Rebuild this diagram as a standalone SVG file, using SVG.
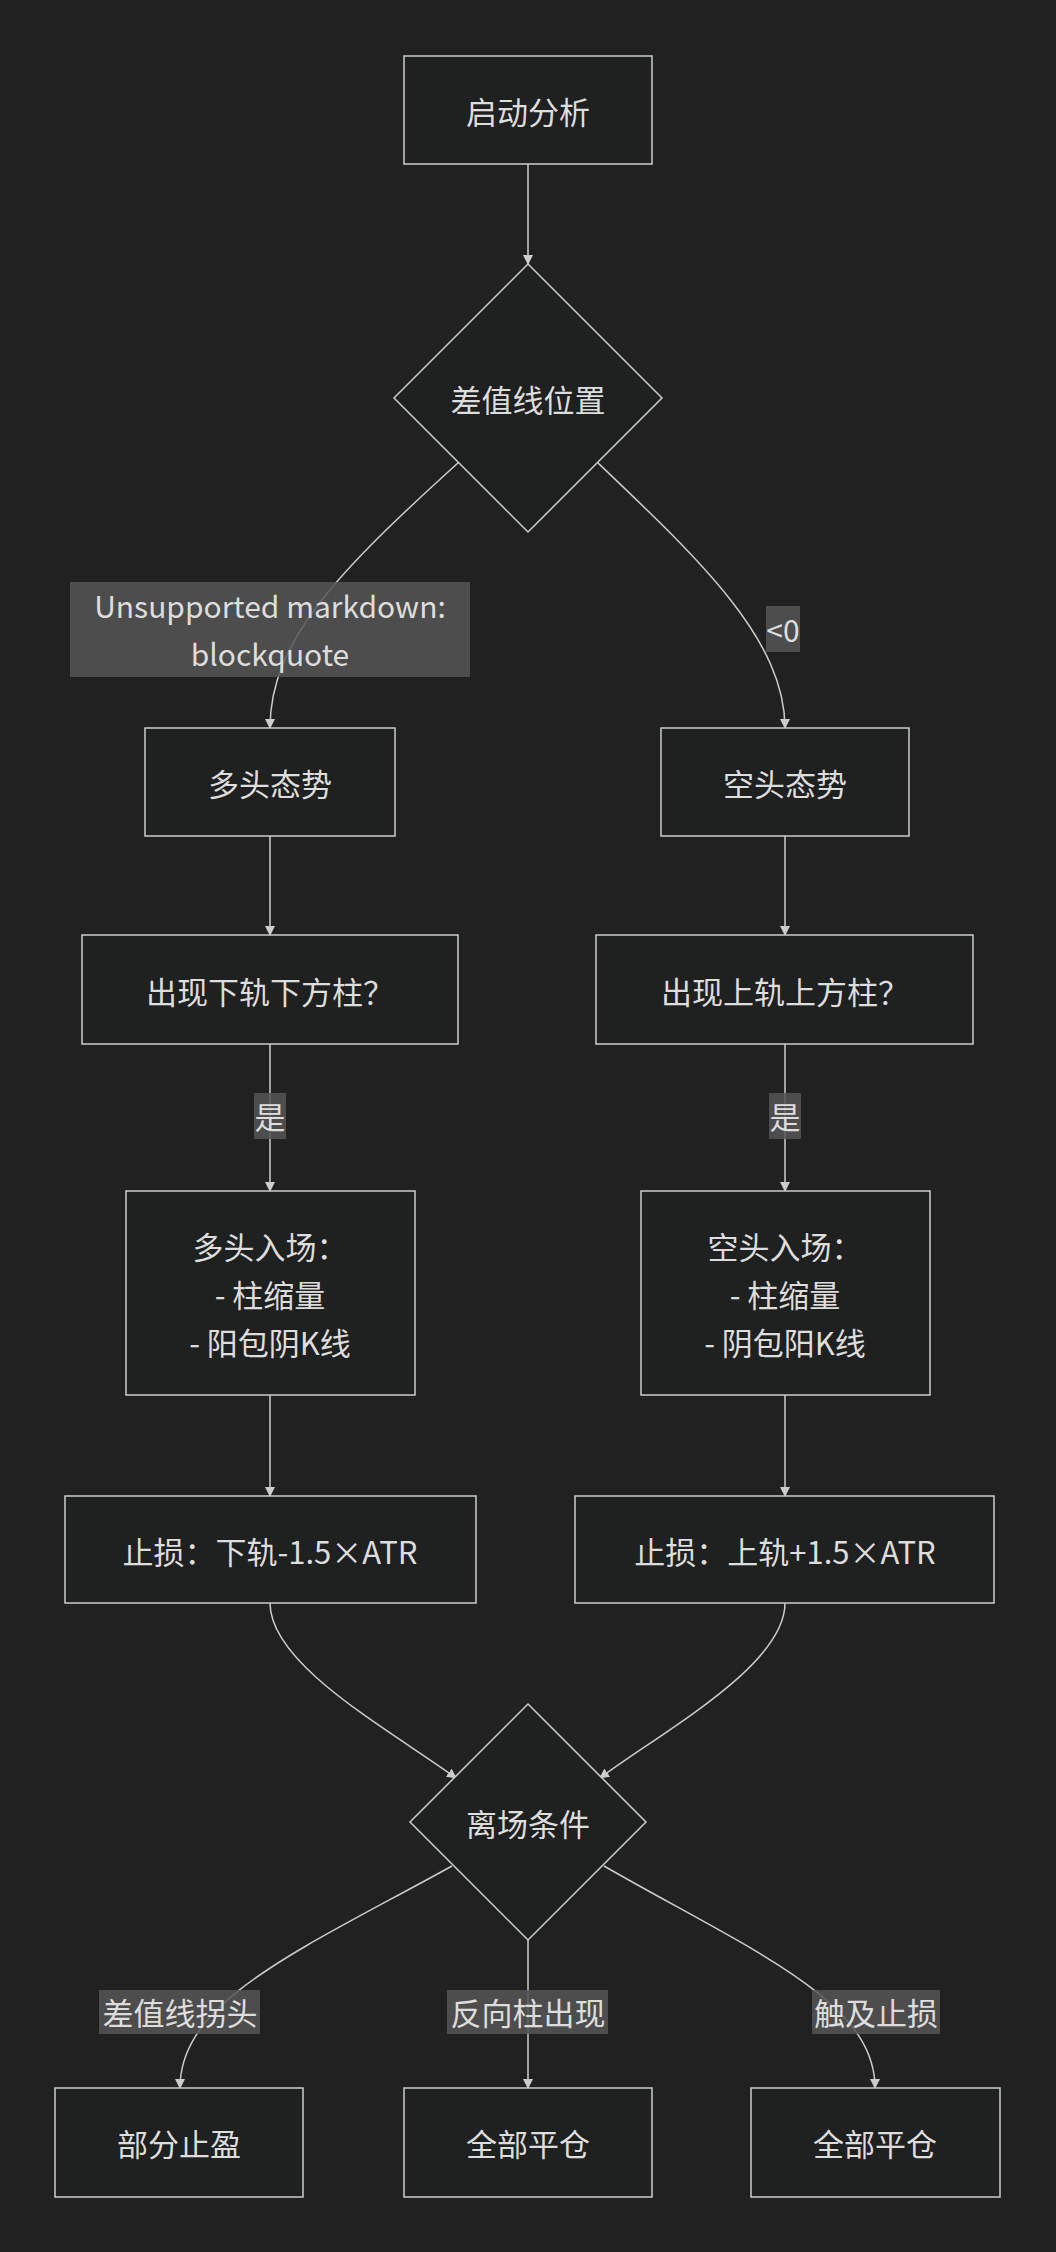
<svg xmlns="http://www.w3.org/2000/svg" width="1056" height="2252" viewBox="0 0 1056 2252">
<style>
.n{fill:#1f2020;stroke:#cccccc;stroke-width:1.5}
.t{font-family:"Noto Sans CJK SC","Noto Sans",sans-serif;font-size:31px;fill:#dddddd;text-anchor:middle;dominant-baseline:central}
.s{font-size:30px}
.e{fill:none;stroke:#cccccc;stroke-width:1.5}
.lb{fill:#555555;opacity:0.85}
</style>
<defs><marker id="a" viewBox="0 0 10 10" refX="9" refY="5" markerWidth="10" markerHeight="10" markerUnits="userSpaceOnUse" orient="auto"><path d="M0,0L10,5L0,10z" fill="#cccccc"/></marker></defs>
<rect width="1056" height="2252" fill="#212121"/>
<g id="edges">
<path class="e" d="M528,164V264" marker-end="url(#a)"/>
<path class="e" d="M459,462C340,570 270,640 270,728" marker-end="url(#a)"/>
<path class="e" d="M597,462C700,560 785,640 785,728" marker-end="url(#a)"/>
<path class="e" d="M270,836V935" marker-end="url(#a)"/>
<path class="e" d="M785,836V935" marker-end="url(#a)"/>
<path class="e" d="M270,1044V1191" marker-end="url(#a)"/>
<path class="e" d="M785,1044V1191" marker-end="url(#a)"/>
<path class="e" d="M270,1395V1496" marker-end="url(#a)"/>
<path class="e" d="M785,1395V1496" marker-end="url(#a)"/>
<path class="e" d="M270,1603C270,1665 390,1730 456,1778" marker-end="url(#a)"/>
<path class="e" d="M785,1603C785,1665 665,1730 600,1778" marker-end="url(#a)"/>
<path class="e" d="M452,1866C300,1950 180,2000 180,2088" marker-end="url(#a)"/>
<path class="e" d="M528,1940V2088" marker-end="url(#a)"/>
<path class="e" d="M604,1866C750,1950 875,2000 875,2088" marker-end="url(#a)"/>
<rect class="lb" x="70" y="582" width="400" height="95"/>
<text class="t s" x="270" y="605">Unsupported markdown: </text>
<text class="t s" x="270" y="653">blockquote</text>
<rect class="lb" x="766" y="606" width="34" height="46"/><text class="t s" x="783" y="629">&lt;0</text>
<rect class="lb" x="254" y="1093" width="32" height="46"/><text class="t" x="270" y="1115">是</text>
<rect class="lb" x="769" y="1093" width="32" height="46"/><text class="t" x="785" y="1115">是</text>
<rect class="lb" x="99" y="1990" width="161" height="44"/><text class="t" x="180" y="2011">差值线拐头</text>
<rect class="lb" x="447" y="1990" width="161" height="44"/><text class="t" x="528" y="2011">反向柱出现</text>
<rect class="lb" x="812" y="1990" width="128" height="44"/><text class="t" x="876" y="2011">触及止损</text>
</g>
<g id="start"><rect class="n" x="404" y="56" width="248" height="108"/><text class="t" x="528" y="110">启动分析</text></g>
<g id="pos"><path class="n" d="M528,264L662,398L528,532L394,398z"/><text class="t" x="528" y="398">差值线位置</text></g>
<g id="bull"><rect class="n" x="145" y="728" width="250" height="108"/><text class="t" x="270" y="782">多头态势</text></g>
<g id="bear"><rect class="n" x="661" y="728" width="248" height="108"/><text class="t" x="785" y="782">空头态势</text></g>
<g id="q1"><rect class="n" x="82" y="935" width="376" height="109"/><text class="t" x="270" y="990">出现下轨下方柱？</text></g>
<g id="q2"><rect class="n" x="596" y="935" width="377" height="109"/><text class="t" x="785" y="990">出现上轨上方柱？</text></g>
<g id="in1"><rect class="n" x="126" y="1191" width="289" height="204"/><text class="t" x="270" y="1245">多头入场：</text><text class="t" x="270" y="1293">- 柱缩量</text><text class="t" x="270" y="1341">- 阳包阴K线</text></g>
<g id="in2"><rect class="n" x="641" y="1191" width="289" height="204"/><text class="t" x="785" y="1245">空头入场：</text><text class="t" x="785" y="1293">- 柱缩量</text><text class="t" x="785" y="1341">- 阴包阳K线</text></g>
<g id="sl1"><rect class="n" x="65" y="1496" width="411" height="107"/><text class="t" x="270" y="1550">止损：下轨-1.5×ATR</text></g>
<g id="sl2"><rect class="n" x="575" y="1496" width="419" height="107"/><text class="t" x="785" y="1550">止损：上轨+1.5×ATR</text></g>
<g id="exit"><path class="n" d="M528,1704L646,1822L528,1940L410,1822z"/><text class="t" x="528" y="1822">离场条件</text></g>
<g id="o1"><rect class="n" x="55" y="2088" width="248" height="109"/><text class="t" x="179" y="2142">部分止盈</text></g>
<g id="o2"><rect class="n" x="404" y="2088" width="248" height="109"/><text class="t" x="528" y="2142">全部平仓</text></g>
<g id="o3"><rect class="n" x="751" y="2088" width="249" height="109"/><text class="t" x="875" y="2142">全部平仓</text></g>
</svg>
